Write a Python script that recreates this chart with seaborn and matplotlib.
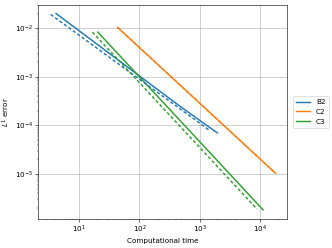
import matplotlib
matplotlib.use("Agg")
import matplotlib.pyplot as plt
from matplotlib.lines import Line2D
import seaborn as sns
import pandas as pd

# Data (log-log straight segments)
methods = ["B2", "C2", "C3"]
colors = ["#1f77b4", "#ff7f0e", "#2ca02c"]

b2_time = [4.16, 473, 1945]
b2_err = [2.0e-2, 2.44e-4, 6.97e-5]
b2d_time = [3.39, 1480]
b2d_err = [1.91e-2, 7.7e-5]

c2_time = [43.7, 17900]
c2_err = [1.03e-2, 1.03e-5]
c2d_time = [43.7, 17900]
c2d_err = [1.03e-2, 1.03e-5]

c3_time = [20.4, 11100]
c3_err = [8.3e-3, 1.82e-6]
c3d_time = [16.6, 8830]
c3d_err = [8.3e-3, 1.88e-6]

solid = pd.DataFrame({
    "time": b2_time + c2_time + c3_time,
    "err": b2_err + c2_err + c3_err,
    "method": ["B2"] * len(b2_time) + ["C2"] * len(c2_time) + ["C3"] * len(c3_time),
})
dashed = pd.DataFrame({
    "time": b2d_time + c2d_time + c3d_time,
    "err": b2d_err + c2d_err + c3d_err,
    "method": ["B2"] * len(b2d_time) + ["C2"] * len(c2d_time) + ["C3"] * len(c3d_time),
})

fig = plt.figure(figsize=(332 / 52, 248 / 52), dpi=52)
ax = fig.add_axes([0.1145, 0.117, 0.7495, 0.863])
pal = dict(zip(methods, colors))

sns.lineplot(data=solid, x="time", y="err", hue="method", palette=pal,
             hue_order=methods, ax=ax, estimator=None, sort=False, linewidth=2.0,
             legend=False)
sns.lineplot(data=dashed, x="time", y="err", hue="method", palette=pal,
             hue_order=methods, ax=ax, estimator=None, sort=False, linewidth=2.0,
             linestyle=(0, (2.2, 1.6)), legend=False)

ax.set_xscale("log")
ax.set_yscale("log")
ax.set_xlim(2.09, 27500)
ax.set_ylim(1.18e-6, 3.0e-2)
ax.grid(True, which="major", color="#b0b0b0", linewidth=0.8)
ax.set_axisbelow(True)
ax.set_xlabel("Computational time")
ax.set_ylabel("$L^1$ error")
handles = [Line2D([0], [0], color=c, linewidth=2.0) for c in colors]
ax.legend(handles, methods, loc="center left", bbox_to_anchor=(1.01, 0.5))

fig.savefig("out.png", dpi=52)
